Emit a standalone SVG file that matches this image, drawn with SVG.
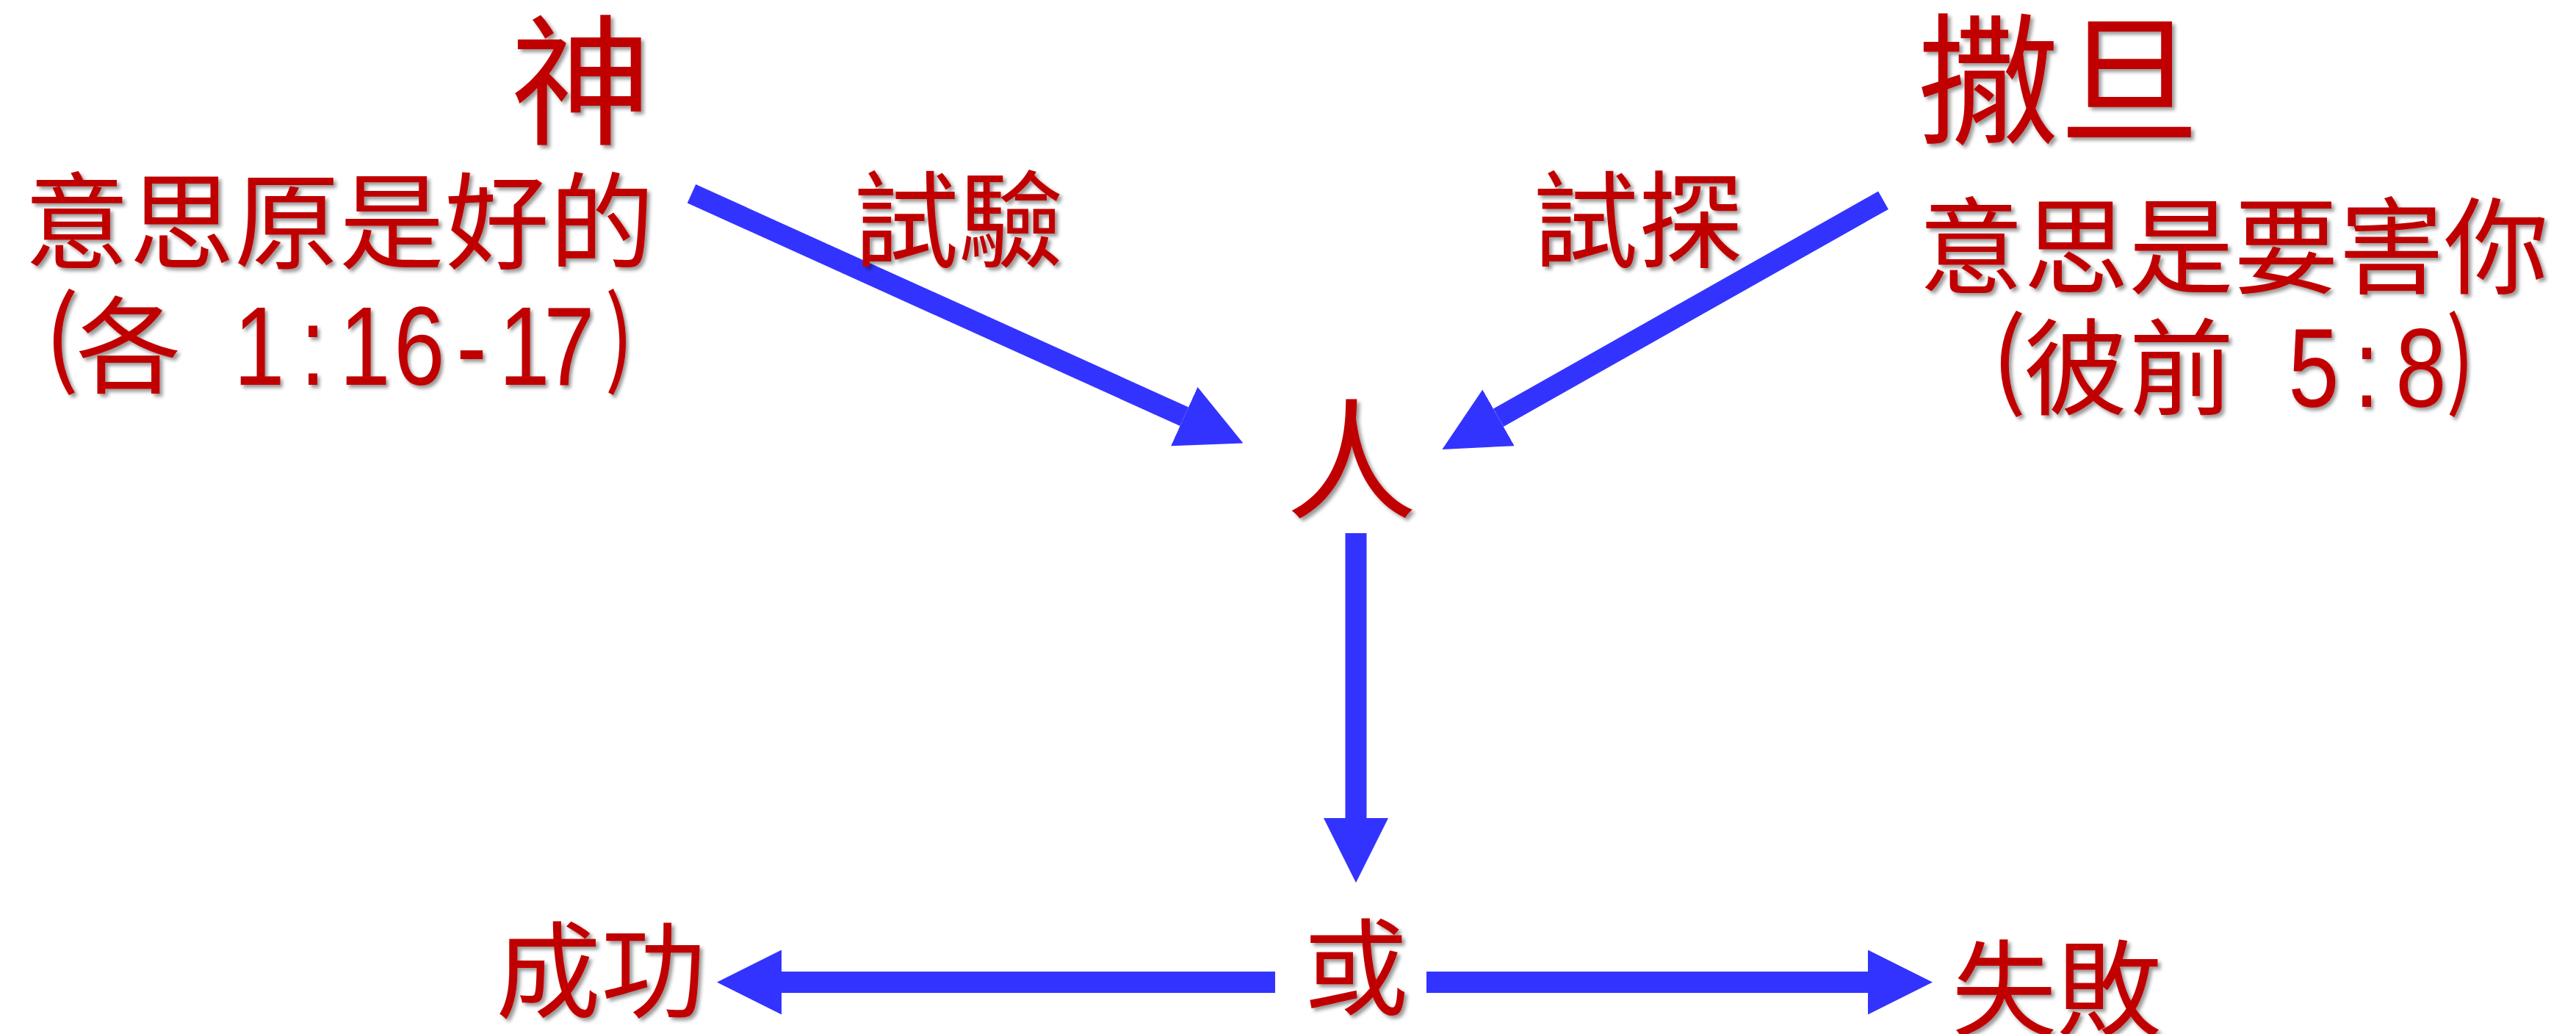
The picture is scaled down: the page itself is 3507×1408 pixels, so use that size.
<svg xmlns="http://www.w3.org/2000/svg" width="3507" height="1408" viewBox="0 0 3507 1408">
  <defs>
    <filter id="shadow" x="-10%" y="-10%" width="130%" height="130%">
      <feDropShadow dx="4" dy="4" stdDeviation="2.5" flood-color="#000000" flood-opacity="0.4"/>
    </filter>
    <marker id="head" viewBox="0 0 88 88" markerWidth="88" markerHeight="88" markerUnits="userSpaceOnUse" refX="0" refY="44" orient="auto">
      <path d="M0,0 L88,44 L0,88 Z" fill="#3333FF"/>
    </marker>
  </defs>
  <style>
    text { font-family: "Noto Sans CJK TC", "Noto Sans CJK SC", sans-serif; fill: #C00000; font-weight: 400; filter: url(#shadow); }
    .title { font-size: 192px; }
    .line { font-size: 143px; }
    .mid { text-anchor: middle; }
    .num { font-family: "Liberation Sans", Arial, sans-serif; font-size: 152px; text-anchor: middle; }
    .par { font-family: "Noto Sans CJK TC", "Noto Sans CJK SC", sans-serif; font-size: 143px; }
    .conn { stroke: #3333FF; stroke-width: 28; fill: none; marker-end: url(#head); }
  </style>
  <rect width="3507" height="1408" fill="#FFFFFF"/>

  <g id="connectors">
    <line class="conn" x1="941.5" y1="263.8" x2="1612.3" y2="567.2"/>
    <line class="conn" x1="2564" y1="272.7" x2="2040" y2="568.8"/>
    <line class="conn" x1="1846" y1="726" x2="1846" y2="1114" style="stroke-width:29"/>
    <line class="conn" x1="1736" y1="1337.5" x2="1064" y2="1337.5" style="stroke-width:29"/>
    <line class="conn" x1="1942" y1="1337.5" x2="2543" y2="1337.5" style="stroke-width:29"/>
  </g>

  <g id="god">
    <text class="title mid" x="791" y="182">神</text>
    <text class="line mid" x="462" y="355">意思原是好的</text>
    <text class="line mid"><tspan x="84" y="510">(</tspan><tspan x="175" y="524">各</tspan></text>
    <text class="num" transform="translate(0,524) scale(0.82,1)"><tspan x="430.5" y="0">1</tspan><tspan x="519.5" y="0">:</tspan><tspan x="606.1" y="0">1</tspan><tspan x="696.3" y="0">6</tspan><tspan x="782.9" y="0">-</tspan><tspan x="870.7" y="0">1</tspan><tspan x="945.1" y="0">7</tspan><tspan class="par" x="1028" y="-14">)</tspan></text>
  </g>

  <g id="satan">
    <text class="title mid" x="2803" y="180">撒旦</text>
    <text class="line mid" x="3041" y="389">意思是要害你</text>
    <text class="line mid"><tspan x="2735" y="540">(</tspan><tspan x="2826" y="554">彼</tspan><tspan x="2970" y="554">前</tspan></text>
    <text class="num" transform="translate(0,554) scale(0.82,1)"><tspan x="3841.5" y="0">5</tspan><tspan x="3929.3" y="0">:</tspan><tspan x="4019.5" y="0">8</tspan><tspan class="par" x="4085" y="-14">)</tspan></text>
  </g>

  <g id="label-trial">
    <text class="line mid" x="1305" y="353">試驗</text>
  </g>
  <g id="label-temptation">
    <text class="line mid" x="2230" y="353">試探</text>
  </g>

  <g id="man">
    <text class="mid" x="1840" y="693" style="font-size:178px">人</text>
  </g>

  <g id="or">
    <text class="line mid" x="1846" y="1371">或</text>
  </g>
  <g id="success">
    <text class="line mid" x="818" y="1375">成功</text>
  </g>
  <g id="failure">
    <text class="line mid" x="2800" y="1400">失敗</text>
  </g>
</svg>
